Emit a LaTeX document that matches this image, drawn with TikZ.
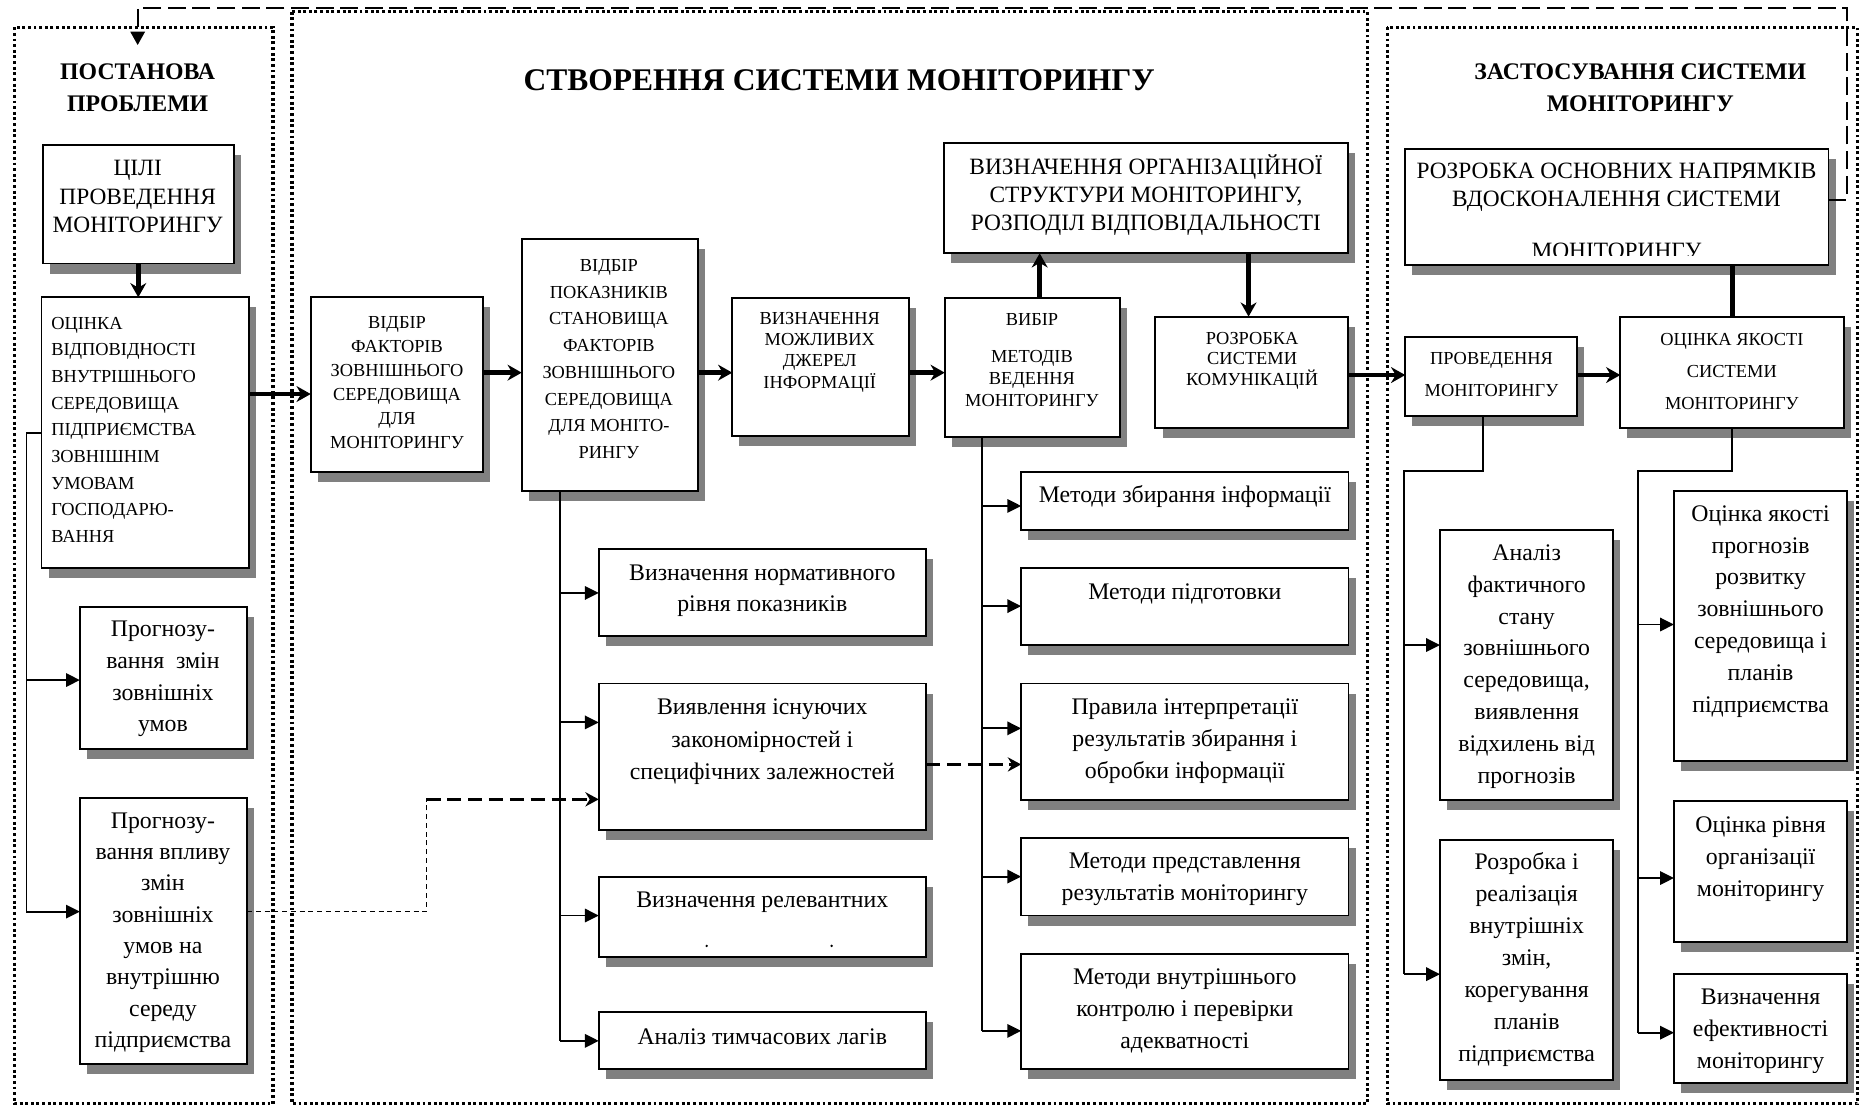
\documentclass[tikz,border=0pt]{standalone}
\usepackage{fontspec}
\setmainfont{Liberation Serif}
\usetikzlibrary{arrows.meta,shadows}

\tikzset{
  panel/.style={line width=0.75pt, dash pattern=on 0.7pt off 0.65pt},
  box/.style={draw=black, line width=0.45pt, fill=white, inner sep=0pt, outer sep=0pt,
    drop shadow={shadow xshift=0.06cm, shadow yshift=-0.085cm, fill=black!50, opacity=1}},
  txt/.style={inner sep=0pt, align=center},
  ttl/.style={txt, font=\fontsize{7.55pt}{9pt}\selectfont\bfseries},
  phead/.style={txt, font=\fontsize{5.7pt}{7.77pt}\selectfont\bfseries},
  capL/.style={txt, font=\fontsize{5.6pt}{#1}\selectfont},
  capS/.style={txt, font=\fontsize{4.4pt}{#1}\selectfont},
  lowT/.style={txt, font=\fontsize{5.7pt}{#1}\selectfont},
  thickarr/.style={line width=1.15pt, -{Stealth[length=3.4pt,width=3.8pt]}},
  thickln/.style={line width=1.15pt},
  thinln/.style={line width=0.45pt},
  thinarr/.style={line width=0.45pt, -{Triangle[length=3.3pt,width=3.2pt]}},
  fbdash/.style={line width=0.55pt, dash pattern=on 4.3pt off 1.6pt},
  lnkdash/.style={line width=0.6pt, dash pattern=on 3.4pt off 1.6pt, -{Stealth[length=3.2pt,width=3.4pt]}},
  finedash/.style={line width=0.35pt, dash pattern=on 1.2pt off 0.9pt},
}

% box node from its corners: name, x1, y1, x2, y2
\newcommand\mkbox[5]{%
  \node[box, minimum width={(#4-#2)*0.01cm}, minimum height={(#5-#3)*0.01cm}]
    (#1) at ({(#2+#4)/2},{(#3+#5)/2}) {};}

\begin{document}
\begin{tikzpicture}[x=0.01cm, y=-0.01cm]
\useasboundingbox (0,0) rectangle (1568,934);

% dotted frames of the three stages
\draw[panel] (12,23) rectangle (230,930);
\draw[panel] (246,9.8) rectangle (1152.4,930);
\draw[panel] (1168.8,23) rectangle (1565,930);

% stage headings
\node[ttl] (hMain) at (707,67.7) {СТВОРЕННЯ СИСТЕМИ МОНІТОРИНГУ};
\node[phead] (hLeft) at (116,74) {ПОСТАНОВА\\ПРОБЛЕМИ};
\node[phead] (hRight) at (1382,74) {ЗАСТОСУВАННЯ СИСТЕМИ\\МОНІТОРИНГУ};

% ---- boxes ----
\mkbox{cil}{36}{122}{197}{222}
\mkbox{ocin}{35}{250.5}{210}{478.3}
\mkbox{prog1}{67.3}{511.1}{208.2}{631.3}
\mkbox{prog2}{67.3}{672.1}{208.2}{896.7}

\mkbox{vfak}{261.8}{250.5}{407.2}{397.4}
\mkbox{vpok}{439.6}{201.6}{588.1}{413.4}
\mkbox{vmozh}{617}{250.8}{765.6}{367}
\mkbox{vybir}{796}{250.8}{943.6}{368.5}
\mkbox{vorg}{795.5}{120.2}{1135.8}{213.4}
\mkbox{rsk}{973.5}{266.8}{1135.8}{360.3}

\mkbox{norm}{504.5}{462.5}{780.2}{536.1}
\mkbox{vyyav}{504.5}{575.9}{780.2}{699.1}
\mkbox{relev}{504.5}{738.6}{780.2}{806.2}
\mkbox{analiz}{504.5}{852.6}{780.2}{900.7}

\mkbox{mzb}{860.4}{397.4}{1136.2}{446.6}
\mkbox{mpid}{860.4}{478.7}{1136.2}{543.5}
\mkbox{prav}{860.4}{575.9}{1136.2}{673.8}
\mkbox{mpred}{860.4}{705.9}{1136.2}{771.4}
\mkbox{mvn}{860.4}{803.8}{1136.2}{900.7}

\mkbox{rosn}{1184}{125.5}{1540.6}{223.3}
\mkbox{prov}{1184}{283.7}{1329}{350.5}
\mkbox{oyak}{1365.2}{266.8}{1553.6}{360.3}
\mkbox{anal}{1213.3}{446.3}{1359.3}{674.3}
\mkbox{rozr}{1213.3}{707.4}{1359.3}{909.7}
\mkbox{oyp}{1410.4}{414}{1556.4}{641.5}
\mkbox{orivn}{1410.4}{675}{1556.4}{793.8}
\mkbox{vef}{1410.4}{820.8}{1556.4}{912.6}

% ---- box texts ----
\node[capL=6.8pt] (tcil) at (116,165.6) {ЦІЛІ\\ПРОВЕДЕННЯ\\МОНІТОРИНГУ};
\node[capS=6.39pt, align=left, anchor=west] (tocin) at (42.5,362.2)
  {ОЦІНКА\\ВІДПОВІДНОСТІ\\ВНУТРІШНЬОГО\\СЕРЕДОВИЩА\\ПІДПРИЄМСТВА\\ЗОВНІШНІМ\\УМОВАМ\\ГОСПОДАРЮ-\\ВАННЯ};
\node[lowT=7.6pt] (tprog1) at (137.3,572.2) {Прогнозу-\\вання\ \ змін\\зовнішніх\\умов};
\node[lowT=7.5pt] (tprog2) at (137.3,785.7)
  {Прогнозу-\\вання впливу\\змін\\зовнішніх\\умов на\\внутрішню\\середу\\підприємства};

\node[capS=5.75pt] (tvfak) at (334.5,322.2)
  {ВІДБІР\\ФАКТОРІВ\\ЗОВНІШНЬОГО\\СЕРЕДОВИЩА\\ДЛЯ\\МОНІТОРИНГУ};
\node[capS=6.4pt] (tvpok) at (513,302.5)
  {ВІДБІР\\ПОКАЗНИКІВ\\СТАНОВИЩА\\ФАКТОРІВ\\ЗОВНІШНЬОГО\\СЕРЕДОВИЩА\\ДЛЯ МОНІТО-\\РИНГУ};
\node[capS=5.12pt] (tvmozh) at (690.7,296.7) {ВИЗНАЧЕННЯ\\МОЖЛИВИХ\\ДЖЕРЕЛ\\ІНФОРМАЦІЇ};
\node[capS=5pt] (tvybir1) at (869.5,269.6) {ВИБІР};
\node[capS=5.2pt] (tvybir2) at (869.5,318.8) {МЕТОДІВ\\ВЕДЕННЯ\\МОНІТОРИНГУ};
\node[capL=6.7pt] (tvorg) at (965.6,164)
  {ВИЗНАЧЕННЯ ОРГАНІЗАЦІЙНОЇ\\СТРУКТУРИ МОНІТОРИНГУ,\\РОЗПОДІЛ ВІДПОВІДАЛЬНОСТІ};
\node[capS=5pt] (trsk) at (1055,304) {РОЗРОБКА\\СИСТЕМИ\\КОМУНІКАЦІЙ};

\node[lowT=7.45pt] (tnorm) at (642.3,497.6) {Визначення нормативного\\рівня показників};
\node[lowT=7.77pt] (tvyyav) at (642.3,625.2)
  {Виявлення існуючих\\закономірностей і\\специфічних залежностей};
\node[lowT=7.5pt] (trelev) at (642.3,760.6) {Визначення релевантних};
\fill (595.4,797) circle (1.1);
\fill (700.7,797) circle (1.1);
\node[lowT=7.5pt] (tanaliz) at (642.3,873.6) {Аналіз тимчасових лагів};

\node[lowT=7.5pt] (tmzb) at (998.3,418.6) {Методи збирання інформації};
\node[lowT=7.5pt] (tmpid) at (998.3,500.6) {Методи підготовки};
\node[lowT=7.6pt] (tprav) at (998.3,624.4)
  {Правила інтерпретації\\результатів збирання і\\обробки інформації};
\begin{scope}
  \clip (860.4,705.9) rectangle (1136.2,762.8);
  \node[lowT=7.7pt] (tmpred) at (998.3,741) {Методи представлення\\результатів моніторингу};
\end{scope}
\node[lowT=7.68pt] (tmvn) at (998.3,851.7)
  {Методи внутрішнього\\контролю і перевірки\\адекватності};

\node[capL=6.66pt] (trosn) at (1362,157.7) {РОЗРОБКА ОСНОВНИХ НАПРЯМКІВ\\ВДОСКОНАЛЕННЯ СИСТЕМИ};
\begin{scope}
  \clip (1184,125.5) rectangle (1540.6,215);
  \node[capL=6.66pt] (trosn3) at (1362,211) {МОНІТОРИНГУ};
\end{scope}
\node[capS=7.8pt] (tprov) at (1256.7,315.5) {ПРОВЕДЕННЯ\\МОНІТОРИНГУ};
\node[capS=7.67pt] (toyak) at (1459.2,312.8) {ОЦІНКА ЯКОСТІ\\СИСТЕМИ\\МОНІТОРИНГУ};

\node[lowT=7.61pt] (tanal) at (1286.3,561.6)
  {Аналіз\\фактичного\\стану\\зовнішнього\\середовища,\\виявлення\\відхилень від\\прогнозів};
\node[lowT=7.68pt] (trozr) at (1286.3,808.2)
  {Розробка і\\реалізація\\внутрішніх\\змін,\\корегування\\планів\\підприємства};
\node[lowT=7.63pt] (toyp) at (1483.4,515.2)
  {Оцінка якості\\прогнозів\\розвитку\\зовнішнього\\середовища і\\планів\\підприємства};
\node[lowT=7.68pt] (torivn) at (1483.4,723.6) {Оцінка рівня\\організації\\моніторингу};
\begin{scope}
  \clip (1410.4,820.8) rectangle (1556.4,903.8);
  \node[lowT=7.57pt] (tvef) at (1483.4,869) {Визначення\\ефективності\\моніторингу};
\end{scope}

% ---- main flow ----
\coordinate (yA) at (0,332);
\coordinate (yB) at (0,314);
\coordinate (yE) at (0,316);
\coordinate (xC) at (876,0);
\coordinate (xD) at (1052,0);
\draw[thickarr] (cil.south) -- (cil.south |- ocin.north);
\draw[thickarr] (ocin.east |- yA) -- (vfak.west |- yA);
\draw[thickarr] (vfak.east |- yB) -- (vpok.west |- yB);
\draw[thickarr] (vpok.east |- yB) -- (vmozh.west |- yB);
\draw[thickarr] (vmozh.east |- yB) -- (vybir.west |- yB);
\draw[thickarr] (vybir.north -| xC) -- (vorg.south -| xC);
\draw[thickarr] (vorg.south -| xD) -- (rsk.north -| xD);
\draw[thickarr] (rsk.east |- yE) -- (prov.west |- yE);
\draw[thickarr] (prov.east |- yE) -- (oyak.west |- yE);
\draw[thickln] (rosn.south -| oyak.north) -- (oyak.north);

% feedback loop back to the problem statement
\coordinate (fbR) at (1556,168.5);
\coordinate (fbT) at (1556,6.5);
\coordinate (fbL) at (116,6.5);
\coordinate (fbE) at (116,38);
\draw[fbdash, -{Triangle[length=3.2pt,width=3.4pt]}]
  (rosn.east |- fbR) -- (fbR) -- (fbT) -- (fbL) -- (fbE);

% ---- left branch ----
\coordinate (lsp) at (22.3,365);
\coordinate (L1) at (22.3,573);
\coordinate (L2) at (22.3,768.1);
\draw[thinln] (ocin.west |- lsp) -- (lsp) -- (L2);
\draw[thinarr] (L1) -- (L1 -| prog1.west);
\draw[thinarr] (L2) -- (L2 -| prog2.west);

% dashed links
\coordinate (D1) at (359.2,768.1);
\coordinate (D2) at (359.2,673.5);
\coordinate (D3) at (0,644.1);
\draw[finedash] (L2 -| prog2.east) -- (D1) -- (D2);
\draw[lnkdash] (D2) -- (D2 -| vyyav.west);
\draw[lnkdash] (vyyav.east |- D3) -- (prav.west |- D3);

% ---- indicator branch ----
\coordinate (P1) at (472,499.6);
\coordinate (P2) at (472,608.7);
\coordinate (P3) at (472,771.4);
\coordinate (P4) at (472,877);
\draw[thinln] (vpok.south -| P4) -- (P4);
\draw[thinarr] (P1) -- (P1 -| norm.west);
\draw[thinarr] (P2) -- (P2 -| vyyav.west);
\draw[thinarr] (P3) -- (P3 -| relev.west);
\draw[thinarr] (P4) -- (P4 -| analiz.west);

% ---- methods branch ----
\coordinate (M1) at (827.5,426.3);
\coordinate (M2) at (827.5,510.7);
\coordinate (M3) at (827.5,613.7);
\coordinate (M4) at (827.5,738.6);
\coordinate (M5) at (827.5,868.6);
\draw[thinln] (vybir.south -| M5) -- (M5);
\draw[thinarr] (M1) -- (M1 -| mzb.west);
\draw[thinarr] (M2) -- (M2 -| mpid.west);
\draw[thinarr] (M3) -- (M3 -| prav.west);
\draw[thinarr] (M4) -- (M4 -| mpred.west);
\draw[thinarr] (M5) -- (M5 -| mvn.west);

% ---- application branches ----
\coordinate (R0) at (1249.2,396.6);
\coordinate (R1) at (1183,396.6);
\coordinate (R2) at (1183,543.5);
\coordinate (R3) at (1183,820.8);
\draw[thinln] (prov.south -| R0) -- (R0) -- (R1) -- (R3);
\draw[thinarr] (R2) -- (R2 -| anal.west);
\draw[thinarr] (R3) -- (R3 -| rozr.west);

\coordinate (S0) at (1459,396.6);
\coordinate (S1) at (1380.4,396.6);
\coordinate (S2) at (1380.4,526.2);
\coordinate (S3) at (1380.4,739.8);
\coordinate (S4) at (1380.4,870.1);
\draw[thinln] (oyak.south -| S0) -- (S0) -- (S1) -- (S4);
\draw[thinarr] (S2) -- (S2 -| oyp.west);
\draw[thinarr] (S3) -- (S3 -| orivn.west);
\draw[thinarr] (S4) -- (S4 -| vef.west);

\end{tikzpicture}
\end{document}
